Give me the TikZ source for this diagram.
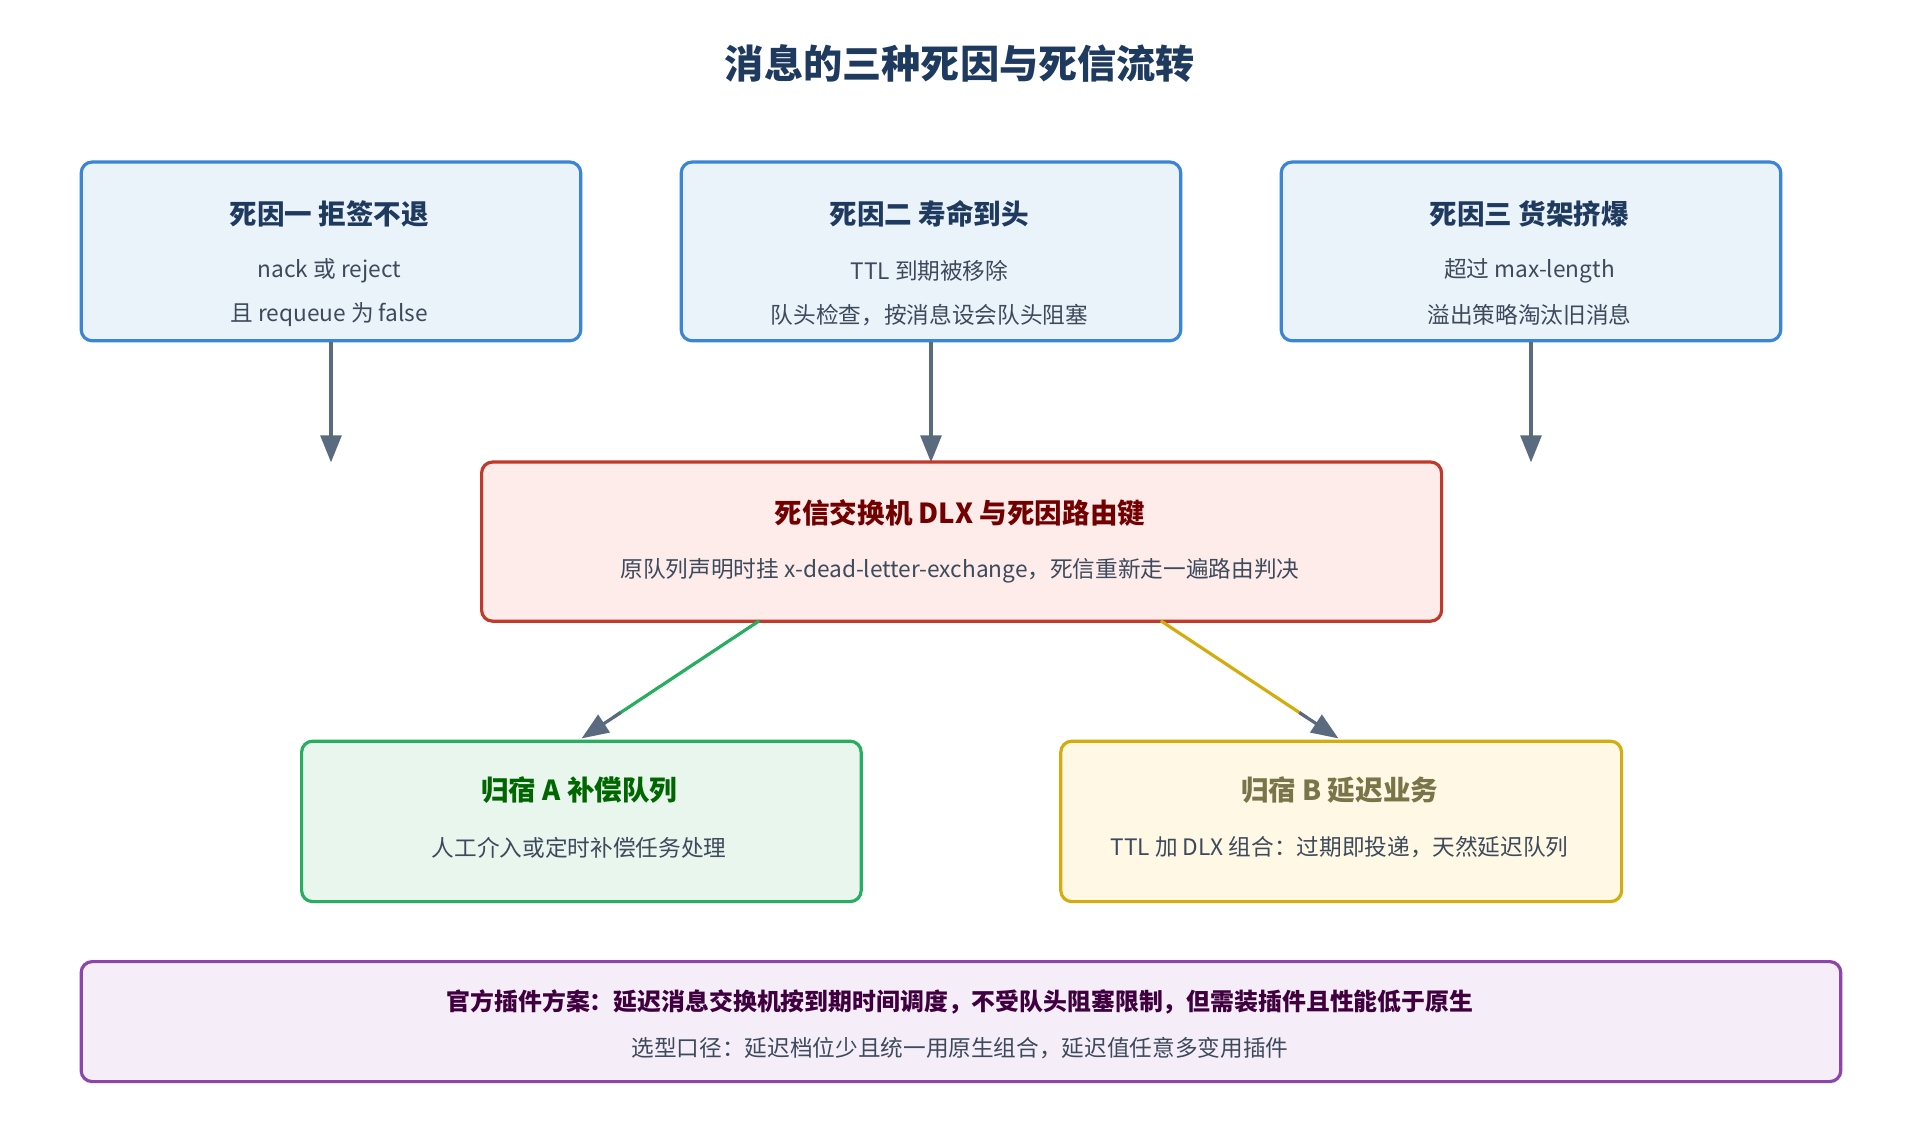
\documentclass[tikz,border=0pt]{standalone}
\usepackage{fontspec}
\setmainfont{Noto Sans CJK SC}
\usetikzlibrary{arrows.meta,calc}
\definecolor{navy}{HTML}{1F3A5F}
\definecolor{txt}{HTML}{3D4A5C}
\definecolor{arr}{HTML}{5A6B80}
\definecolor{bb}{HTML}{3A85D6}\definecolor{bf}{HTML}{EBF3FA}
\definecolor{rb}{HTML}{C0392B}\definecolor{rf}{HTML}{FDECEA}
\definecolor{gbd}{HTML}{27AE60}\definecolor{gf}{HTML}{E9F6EE}
\definecolor{yb}{HTML}{D4AC0D}\definecolor{yf}{HTML}{FEF8E5}
\definecolor{pb}{HTML}{8E44AD}\definecolor{pf}{HTML}{F5EEF8}
\begin{document}
\begin{tikzpicture}[x=1pt,y=-1pt,
  box/.style={draw,line width=2.6pt,rounded corners=9pt,anchor=north west},
  ttl/.style={font=\fontsize{22.5}{26}\selectfont\bfseries},
  bt/.style={font=\fontsize{18.5}{22}\selectfont,text=txt},
  ar/.style={line width=2.6pt,-{Triangle[length=22pt,width=17pt]}}]
\useasboundingbox[fill=white] (0,0) rectangle (1568,915);
\node[font=\fontsize{32}{36}\selectfont\bfseries,text=navy] (title) at (784,52) {消息的三种死因与死信流转};
\foreach \n/\x/\t/\a/\b in {d1/65/死因一 拒签不退/nack 或 reject/且 requeue 为 false,
  d2/555/死因二 寿命到头/TTL 到期被移除/队头检查，按消息设会队头阻塞,
  d3/1045/死因三 货架挤爆/超过 max-length/溢出策略淘汰旧消息}{
  \node[box,draw=bb,fill=bf,minimum width=408pt,minimum height=146pt] (\n) at (\x,131) {};
  \node[ttl,text=navy] at (\x+204,175) {\t};
  \node[bt] at (\x+204,221) {\a};
  \node[bt] at (\x+204,257) {\b};
}
\coordinate (e1) at ($(d1.south)+(0,98)$); \coordinate (e2) at ($(d2.south)+(0,98)$); \coordinate (e3) at ($(d3.south)+(0,98)$);
\draw[ar,arr] (d1.south) -- (e1);
\draw[ar,arr] (d2.south) -- (e2);
\draw[ar,arr] (d3.south) -- (e3);
\node[box,draw=rb,fill=rf,minimum width=784pt,minimum height=130pt] (dlx) at (392,376) {};
\node[ttl,text=red!45!black] at (784,419) {死信交换机 DLX 与死因路由键};
\node[bt] at (784,466) {原队列声明时挂 x-dead-letter-exchange，死信重新走一遍路由判决};
\node[box,draw=gbd,fill=gf,minimum width=457pt,minimum height=131pt] (ga) at (245,604) {};
\node[ttl,text=green!40!black] at (473,645) {归宿 A 补偿队列};
\node[bt] at (473,692) {人工介入或定时补偿任务处理};
\node[box,draw=yb,fill=yf,minimum width=458pt,minimum height=131pt] (gb) at (865,604) {};
\node[ttl,text=yellow!40!black] at (1094,645) {归宿 B 延迟业务};
\node[bt] at (1094,692) {TTL 加 DLX 组合：过期即投递，天然延迟队列};
\coordinate (s1) at (620,507); \coordinate (t1) at (475,603);
\coordinate (s2) at (948,507); \coordinate (t2) at (1093,603);
\draw[line width=2.6pt,gbd] (s1) -- ($(s1)!0.82!(t1)$);
\draw[ar,arr] ($(s1)!0.78!(t1)$) -- (t1);
\draw[line width=2.6pt,yb] (s2) -- ($(s2)!0.82!(t2)$);
\draw[ar,arr] ($(s2)!0.78!(t2)$) -- (t2);
\node[box,draw=pb,fill=pf,minimum width=1437pt,minimum height=98pt] (pl) at (65,784) {};
\node[font=\fontsize{19.5}{23}\selectfont\bfseries,text=violet!50!black] at (784,818) {官方插件方案：延迟消息交换机按到期时间调度，不受队头阻塞限制，但需装插件且性能低于原生};
\node[bt] at (784,856) {选型口径：延迟档位少且统一用原生组合，延迟值任意多变用插件};
\end{tikzpicture}
\end{document}
